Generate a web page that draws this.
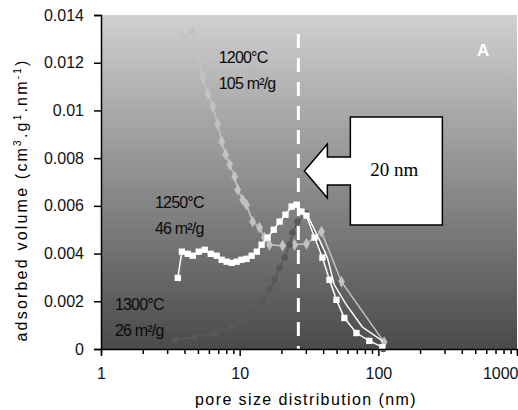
<!DOCTYPE html>
<html>
<head>
<meta charset="utf-8">
<script src="https://cdn.jsdelivr.net/npm/d3@7"></script>
<style>
	body { margin: 0; background: #fff; }
	svg { font-family: 'Liberation Sans', Arial, sans-serif; }
	.axis text { font-size: 16px; fill: #111; }
	.axis path, .axis line { stroke: #000; stroke-width: 1.5; }
</style>
</head>
<body>
<div id="chart"></div>
<script>
// pore size (nm) / adsorbed volume
const size1200 = [3.89, 4.59, 4.99, 5.42, 5.89, 6.39, 6.95, 7.42, 7.93, 8.47, 9.2, 9.68, 10.5, 11.2, 12.4, 13.9, 15.1, 16.4, 20.4, 24.9, 30.3, 38.9, 54.2, 110]
const vol1200 = [0.0131, 0.0133, 0.0124, 0.0114, 0.01068, 0.01017, 0.00942, 0.0087, 0.00815, 0.00773, 0.00723, 0.00668, 0.00626, 0.00605, 0.00534, 0.00509, 0.00467, 0.00437, 0.00433, 0.00437, 0.00441, 0.00492, 0.00282, 0.00029]

const size1250 = [3.58, 3.83, 4.22, 4.59, 5.07, 5.6, 6.19, 6.83, 7.42, 8.06, 8.75, 9.51, 10.3, 11.2, 12.2, 13.3, 14.4, 15.9, 17.6, 19.4, 21.4, 23.7, 25.7, 27.9, 30.3, 34.7, 39.5, 44.4, 49.9, 56.9, 69.5, 86.1, 106.9]
const vol1250 = [0.00298, 0.00408, 0.00399, 0.00391, 0.00408, 0.00416, 0.00399, 0.00391, 0.00374, 0.00366, 0.00361, 0.00366, 0.00374, 0.00378, 0.00391, 0.00408, 0.00437, 0.00467, 0.005, 0.00534, 0.00563, 0.00597, 0.00605, 0.00576, 0.00559, 0.00467, 0.00383, 0.0029, 0.00206, 0.0013, 0.00067, 0.00034, 0.00008]

// second white trace on the falling side
const sizeLoop = [30.3, 31.9, 37.6, 42.9, 48.2, 58.9, 76.7, 106.9]
const volLoop = [0.00559, 0.00542, 0.00458, 0.00383, 0.00269, 0.00185, 0.00092, 0.00034]

const size1300 = [3.41, 4.75, 6.61, 8.75, 10.9, 12.8, 14.6, 16.4, 17.9, 19.4, 21.1, 22.9, 24.1, 26.1, 30.3, 38.9, 49.9, 67.2, 86.1, 108.6]
const vol1300 = [0.00038, 0.0005, 0.00067, 0.00092, 0.00122, 0.00156, 0.00198, 0.00248, 0.0029, 0.0034, 0.00383, 0.00437, 0.00488, 0.00534, 0.00567, 0.00416, 0.00269, 0.00122, 0.00046, 0]

const xTicks = [1, 10, 100, 1000]
const yTicks = [0, 0.002, 0.004, 0.006, 0.008, 0.01, 0.012, 0.014]
const cutoff = 26.5

const labels = [
	{ x: 7.06, y: 0.0120, lines: ['1200°C', '105 m²/g'] },
	{ x: 2.45, y: 0.00593, lines: ['1250°C', '46 m²/g'] },
	{ x: 1.26, y: 0.00164, lines: ['1300°C', '26 m²/g'] }
]

const chart = {
	margin: { top: 15, right: 1, bottom: 61, left: 101 },
	width: 518,
	height: 410,

	draw(element) {
		const m = this.margin
		const svg = d3
			.select(`#${element}`)
			.append('svg')
			.attr('width', this.width)
			.attr('height', this.height)

		const x = d3
			.scaleLog()
			.domain([1, 1000])
			.range([m.left, this.width - m.right])

		const y = d3
			.scaleLinear()
			.domain([0, 0.014])
			.range([this.height - m.bottom, m.top])

		const grad = svg
			.append('defs')
			.append('linearGradient')
			.attr('id', 'bg')
			.attr('x1', 0)
			.attr('y1', 0)
			.attr('x2', 0)
			.attr('y2', 1)
		grad.append('stop').attr('offset', '0%').attr('stop-color', '#d0d0d0')
		grad.append('stop').attr('offset', '100%').attr('stop-color', '#4a4a4a')

		svg
			.append('rect')
			.attr('x', x(1))
			.attr('y', y(0.014))
			.attr('width', x(1000) - x(1))
			.attr('height', y(0) - y(0.014))
			.style('fill', 'url(#bg)')

		// dashed marker line
		svg
			.append('line')
			.attr('x1', x(cutoff))
			.attr('x2', x(cutoff))
			.attr('y1', y(0.0132))
			.attr('y2', y(0))
			.style('stroke', '#fff')
			.style('stroke-width', 3)
			.style('stroke-dasharray', '14,10')

		const series = [
			{ xs: size1200, ys: vol1200, color: '#c2c2c2', shape: d3.symbolDiamond, size: 40 },
			{ xs: size1300, ys: vol1300, color: '#585858', shape: d3.symbolCircle, size: 34 },
			{ xs: sizeLoop, ys: volLoop, color: '#fff', shape: null },
			{ xs: size1250, ys: vol1250, color: '#fff', shape: d3.symbolSquare, size: 40 }
		]

		const line = d3
			.line()
			.x(d => x(d[0]))
			.y(d => y(d[1]))

		series.forEach(s => {
			const pts = d3.zip(s.xs, s.ys)
			svg
				.append('path')
				.datum(pts)
				.attr('d', line)
				.style('fill', 'none')
				.style('stroke', s.color)
				.style('stroke-width', 1.5)
			if (!s.shape) return
			svg
				.append('g')
				.selectAll('path')
				.data(pts)
				.enter()
				.append('path')
				.attr('transform', d => `translate(${x(d[0])},${y(d[1])})`)
				.attr('d', d3.symbol().type(s.shape).size(s.size))
				.style('fill', s.color)
		})

		// axes
		const xAxis = svg
			.append('g')
			.classed('axis', true)
			.attr('transform', `translate(0,${y(0)})`)
			.call(
				d3
					.axisBottom(x)
					.tickValues(d3.range(0, 3).flatMap(e => d3.range(1, 10).map(k => k * 10 ** e)).concat([1000]))
					.tickFormat(d => (xTicks.includes(d) ? d : ''))
					.tickSizeOuter(0)
					.tickSize(5)
					.tickPadding(14)
			)
		xAxis.selectAll('.tick line').attr('y2', d => (xTicks.includes(d) ? 7 : 5))
		xAxis
			.selectAll('.tick text')
			.filter(d => d === 1000)
			.style('text-anchor', 'end')
			.attr('x', 1)

		svg
			.append('g')
			.classed('axis', true)
			.attr('transform', `translate(${x(1)},0)`)
			.call(
				d3
					.axisLeft(y)
					.tickValues(yTicks)
					.tickFormat(d => d3.format('~g')(d))
					.tickSize(7)
					.tickSizeOuter(7)
					.tickPadding(10)
			)

		// axis titles
		svg
			.append('text')
			.attr('x', 306)
			.attr('y', 405)
			.style('text-anchor', 'middle')
			.style('font-size', '16px')
			.style('letter-spacing', '1.4px')
			.text('pore size distribution  (nm)')

		const yt = svg
			.append('text')
			.attr('transform', `translate(27,200) rotate(-90)`)
			.style('text-anchor', 'middle')
			.style('font-size', '16px')
			.style('letter-spacing', '2.2px')
		yt.append('tspan').text('adsorbed volume (cm')
		yt.append('tspan').attr('dy', -6).style('font-size', '10px').text('3')
		yt.append('tspan').attr('dy', 6).text('.g')
		yt.append('tspan').attr('dy', -6).style('font-size', '10px').text('1')
		yt.append('tspan').attr('dy', 6).text('.nm')
		yt.append('tspan').attr('dy', -6).style('font-size', '10px').text('-1')
		yt.append('tspan').attr('dy', 6).text(')')

		// series labels
		labels.forEach(l => {
			l.lines.forEach((t, i) => {
				svg
					.append('text')
					.attr('x', x(l.x))
					.attr('y', y(l.y) + i * 26)
					.style('font-size', '16px')
					.style('letter-spacing', '-0.8px')
					.style('fill', '#0a0a0a')
					.text(t)
			})
		})

		svg
			.append('text')
			.attr('x', 477)
			.attr('y', 56)
			.style('font-size', '17px')
			.style('font-weight', 'bold')
			.style('fill', '#fff')
			.text('A')

		// callout arrow
		const tipX = x(cutoff) + 6
		const tipY = 171
		const box = { x0: tipX + 46, x1: tipX + 138, y0: 117, y1: 225 }
		const callout = [
			[tipX, tipY],
			[tipX + 23, tipY - 27],
			[tipX + 23, tipY - 14],
			[box.x0, tipY - 14],
			[box.x0, box.y0],
			[box.x1, box.y0],
			[box.x1, box.y1],
			[box.x0, box.y1],
			[box.x0, tipY + 14],
			[tipX + 23, tipY + 14],
			[tipX + 23, tipY + 27]
		]
		svg
			.append('polygon')
			.attr('points', callout.map(p => p.join(',')).join(' '))
			.style('fill', '#fff')
			.style('stroke', '#000')
			.style('stroke-width', 1.5)

		svg
			.append('text')
			.attr('x', (box.x0 + box.x1) / 2 - 2)
			.attr('y', tipY + 5)
			.style('text-anchor', 'middle')
			.style('font-family', "'Liberation Serif', 'Times New Roman', serif")
			.style('font-size', '19px')
			.text('20 nm')
	}
}

chart.draw('chart')
</script>
</body>
</html>
